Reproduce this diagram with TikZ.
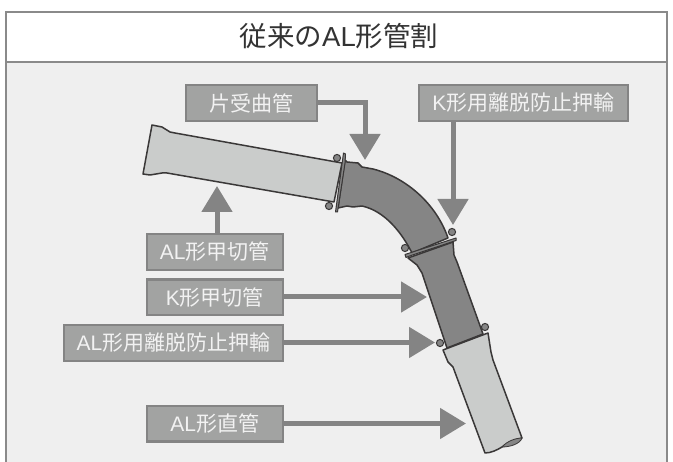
\documentclass[tikz,border=0pt]{standalone}
\usepackage{fontspec}
\setmainfont{Liberation Sans}
\newfontfamily\cjk{Noto Sans CJK JP}
\usetikzlibrary{arrows.meta}
\definecolor{panelfill}{HTML}{EFEFEF}
\definecolor{panelline}{HTML}{8A8A8A}
\definecolor{labelfill}{HTML}{A2A3A2}
\definecolor{labelline}{HTML}{848484}
\definecolor{pipelight}{HTML}{CACCCB}
\definecolor{pipedark}{HTML}{858585}
\definecolor{pipeline}{HTML}{3A3838}
\tikzset{
    labelbox/.style={draw=labelline, fill=labelfill, line width=2.4pt, text=white!95!black, font=\fontsize{21}{21}\selectfont, minimum height=35.5pt, inner sep=0pt, anchor=center},
    pointer/.style={draw=labelline, line width=5pt, -{Triangle[width=30pt,length=26pt,color=labelline]}},
    pipepart/.style={draw=pipeline, line width=1.5pt, line join=round},
    flangepart/.style={draw=pipeline, fill=pipedark, line width=1pt, line join=round},
    ringdot/.style={draw=pipeline, fill=pipedark, line width=1pt}
}
\begin{document}
\begin{tikzpicture}[x=1pt, y=-1pt]
    \useasboundingbox (0,0) rectangle (673,462);
    % Panel
    \fill[white] (0,0) rectangle (673,462);
    \fill[panelfill] (6,62) rectangle (667,462);
    \draw[panelline, line width=1.2pt] (6,462) -- (6,12) -- (667,12) -- (667,462);
    \draw[panelline, line width=1.2pt] (6,62) -- (667,62);
    \node[text=black!80, font=\fontsize{27.5}{27.5}\selectfont] (title) at (339,36) {{\cjk 従来の}AL{\cjk 形管割}};

    % Tubo recto de la izquierda
    \draw[pipepart, fill=pipelight] (152,125) -- (162,127) -- (170,132) -- (175,133) -- (342,163) -- (334,202) -- (167,173) -- (162,173) -- (150,175) -- (143,174) -- cycle;
    % Curva
    \draw[pipepart, fill=pipedark] (345,160) -- (347,162) -- (358,163) -- (362,167) -- (373,169) .. controls (405,177) and (436,203) .. (448,238) -- (412,253) .. controls (402,233) and (385,211) .. (362,206) -- (353,207) -- (347,206) -- (338,208) -- cycle;
    % K
    \draw[pipepart, fill=pipedark] (453,242) -- (454,255) -- (457,262) -- (483,334) -- (447,348) -- (422,273) -- (417,265) -- (408,258) -- cycle;
    % Tubo recto inferior
    \draw[pipepart, fill=pipelight] (443,350) -- (488,333) -- (491,352) -- (493,360) -- (522,438) .. controls (512,441) and (507,444) .. (502,447) .. controls (497,450) and (491,453) .. (485,453) -- (453,367) -- (448,362) -- cycle;
    \draw[pipepart, fill=pipedark, line width=0.8pt] (502,447) .. controls (507,441) and (516,438) .. (522,438) .. controls (520,444) and (510,447) .. (502,447) -- cycle;
    % Bridas
    \draw[flangepart] (343.5,153) -- (345.5,154) -- (345,163) -- (337.5,212) -- (335.5,212) -- cycle;
    \draw[flangepart] (405,254.5) -- (456,238) -- (456,240.5) -- (411,255.5) -- (406,257.5) -- cycle;
    % Puntos
    \draw[ringdot] (337,158) circle (3.6);
    \draw[ringdot] (329,206) circle (3.6);
    \draw[ringdot] (452,232) circle (3.6);
    \draw[ringdot] (405,248) circle (3.6);
    \draw[ringdot] (485,327) circle (3.6);
    \draw[ringdot] (440,343) circle (3.6);

    % Rotulos
    \node[labelbox, minimum width=131pt] (bendbox) at (251.7,103) {\cjk 片受曲管};
    \node[labelbox, minimum width=209pt] (ringkbox) at (523.5,103) {K{\cjk 形用離脱防止押輪}};
    \node[labelbox, minimum width=136pt] (cutalbox) at (214.8,252) {AL{\cjk 形甲切管}};
    \node[labelbox, minimum width=136pt] (cutkbox) at (214.8,297.3) {K{\cjk 形甲切管}};
    \node[labelbox, minimum width=219pt] (ringalbox) at (173.5,343) {AL{\cjk 形用離脱防止押輪}};
    \node[labelbox, minimum width=136pt] (straightbox) at (214.8,423.8) {AL{\cjk 形直管}};

    % Puntas de flecha
    \coordinate (bendtip) at (365,160);
    \coordinate (ringktip) at (453,225);
    \coordinate (cutaltip) at (217,186);
    \coordinate (cutktip) at (427,297);
    \coordinate (ringaltip) at (435,342.5);
    \coordinate (straighttip) at (466,423.5);

    % Flechas
    \draw[pointer] (bendbox.east) -| (bendtip);
    \draw[pointer] (ringkbox.south -| ringktip) -- (ringktip);
    \draw[pointer] (cutalbox.north -| cutaltip) -- (cutaltip);
    \draw[pointer] (cutkbox.east |- cutktip) -- (cutktip);
    \draw[pointer] (ringalbox.east |- ringaltip) -- (ringaltip);
    \draw[pointer] (straightbox.east |- straighttip) -- (straighttip);
\end{tikzpicture}
\end{document}
